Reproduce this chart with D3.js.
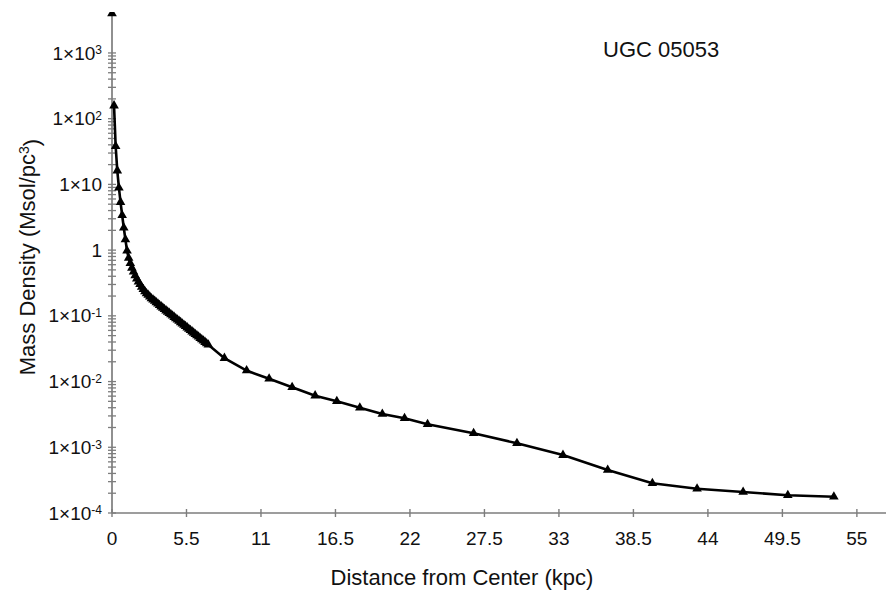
<!DOCTYPE html>
<html>
<head>
<meta charset="utf-8">
<script src="https://d3js.org/d3.v7.min.js"></script>
<style>
body{margin:0;background:#fff;}
text{font-family:"Liberation Sans",Arial,sans-serif;fill:#111;}
</style>
</head>
<body>
<svg id="chart" width="893" height="591"></svg>
<script>
// distance from center (kpc)
var radius = [0.15,0.27,0.39,0.51,0.63,0.75,0.87,0.99,1.11,1.23,1.35,1.47,1.59,1.71,1.83,1.95,2.07,2.19,2.31,2.43,
	2.55,2.67,2.79,2.91,3.03,3.15,3.27,3.39,3.51,3.63,3.75,3.87,3.99,4.11,4.23,4.35,4.47,4.59,4.71,4.83,
	4.95,5.07,5.19,5.31,5.43,5.55,5.67,5.79,5.91,6.03,6.15,6.27,6.39,6.51,6.63,6.75,6.87,6.99,7.11,
	8.3,9.94,11.6,13.3,15.0,16.6,18.3,19.96,21.6,23.3,26.7,29.9,33.3,36.6,39.9,43.2,46.6,49.9,53.3];
// mass density (Msol/pc^3)
var density = [158,38.0,16.2,8.91,5.37,3.39,2.19,1.45,0.977,0.759,0.631,0.537,0.468,0.412,0.367,0.331,0.302,0.275,0.254,0.234,
	0.219,0.207,0.195,0.184,0.176,0.168,0.160,0.153,0.145,0.138,0.132,0.126,0.120,0.115,0.110,0.105,0.100,0.0955,0.0912,0.0871,
	0.0832,0.0794,0.0759,0.0724,0.0692,0.0661,0.0631,0.0603,0.0575,0.0550,0.0525,0.0501,0.0479,0.0457,0.0437,0.0417,0.0398,0.0380,0.0363,
	0.0227,0.0147,0.0110,0.0082,0.0061,0.0050,0.0040,0.0032,0.00276,0.00224,0.00163,0.00115,0.00076,0.000451,0.000283,0.000234,0.000209,0.000186,0.000177];
// the centre point, off the top of the axis
var centreRadius = [0];
var centreDensity = [4000];

var xTicks = [0,5.5,11,16.5,22,27.5,33,38.5,44,49.5,55];
var yExponents = [-4,-3,-2,-1,0,1,2,3];

var data = radius.map(function(r, i){ return {r: r, v: density[i]}; });
var centre = centreRadius.map(function(r, i){ return {r: r, v: centreDensity[i]}; });

var svg = d3.select("#chart");
var m = {l: 112, r: 886, t: 12, b: 513};
var axisColor = "#7d7d7d";

var xScale = d3.scaleLinear().domain([0, 57.15]).range([m.l, m.r]);
var yScale = d3.scaleLog().domain([1e-4, 4200]).range([m.b, m.t]);

svg.append("defs").append("clipPath").attr("id", "plot")
	.append("rect")
	.attr("x", m.l - 10).attr("y", m.t)
	.attr("width", m.r - m.l + 20).attr("height", m.b - m.t + 10);

// axis lines
svg.append("line")
	.attr("x1", m.l).attr("x2", m.r).attr("y1", m.b).attr("y2", m.b)
	.attr("stroke", axisColor).attr("stroke-width", 1.7);
svg.append("line")
	.attr("x1", m.l).attr("x2", m.l).attr("y1", m.t).attr("y2", m.b)
	.attr("stroke", axisColor).attr("stroke-width", 1.7);

// x ticks cross the axis
svg.selectAll(".xtick").data(xTicks).enter()
	.append("line")
	.attr("class", "xtick")
	.attr("x1", function(d){ return xScale(d); })
	.attr("x2", function(d){ return xScale(d); })
	.attr("y1", m.b - 4).attr("y2", m.b + 4)
	.attr("stroke", axisColor).attr("stroke-width", 1.4);

svg.selectAll(".xlab").data(xTicks).enter()
	.append("text")
	.attr("class", "xlab")
	.attr("x", function(d){ return xScale(d); })
	.attr("y", 545)
	.attr("text-anchor", "middle")
	.style("font-size", "19px")
	.text(function(d){ return d; });

// y ticks: 1..9 in every decade up to 1e3
var yTicks = yScale.ticks().filter(function(d){ return d <= 1000; });
svg.selectAll(".ytick").data(yTicks).enter()
	.append("line")
	.attr("class", "ytick")
	.attr("x1", m.l - 4).attr("x2", m.l + 4)
	.attr("y1", function(d){ return yScale(d); })
	.attr("y2", function(d){ return yScale(d); })
	.attr("stroke", axisColor).attr("stroke-width", 1.3);

var ylab = svg.selectAll(".ylab").data(yExponents).enter()
	.append("text")
	.attr("class", "ylab")
	.attr("x", 102)
	.attr("y", function(d){ return yScale(Math.pow(10, d)); })
	.attr("dy", "0.35em")
	.attr("text-anchor", "end")
	.style("font-size", "19px");
ylab.append("tspan").text(function(d){ return d == 0 ? "1" : "1\u00d710"; });
ylab.filter(function(d){ return d != 0 && d != 1; })
	.append("tspan")
	.attr("dy", "-0.45em")
	.style("font-size", "12px")
	.text(function(d){ return d; });

// curve
var line = d3.line()
	.x(function(d){ return xScale(d.r); })
	.y(function(d){ return yScale(d.v); });

var g = svg.append("g").attr("clip-path", "url(#plot)");
g.append("path")
	.datum(data)
	.attr("d", line)
	.attr("fill", "none")
	.attr("stroke", "#000")
	.attr("stroke-width", 2.6);

var tri = d3.symbol().type(d3.symbolTriangle).size(40);
g.selectAll(".pt").data(data.concat(centre)).enter()
	.append("path")
	.attr("class", "pt")
	.attr("d", tri)
	.attr("transform", function(d){ return "translate(" + xScale(d.r) + "," + yScale(d.v) + ")"; })
	.attr("fill", "#000");

// titles
svg.append("text")
	.attr("x", 462).attr("y", 585)
	.attr("text-anchor", "middle")
	.style("font-size", "22px")
	.text("Distance from Center (kpc)");

var yt = svg.append("text")
	.attr("transform", "rotate(-90)")
	.attr("x", -257).attr("y", 35)
	.attr("text-anchor", "middle")
	.style("font-size", "22px");
yt.append("tspan").text("Mass Density (Msol/pc");
yt.append("tspan").attr("dy", "-0.45em").style("font-size", "14px").text("3");
yt.append("tspan").attr("dy", "0.45em").text(")");

svg.append("text")
	.attr("x", 603).attr("y", 57)
	.style("font-size", "22px")
	.text("UGC 05053");
</script>
</body>
</html>
